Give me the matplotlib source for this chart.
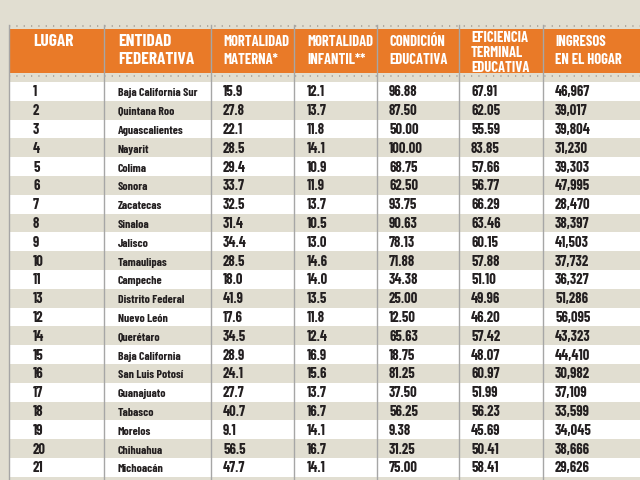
import matplotlib.pyplot as plt
from matplotlib.patches import Rectangle

# table data
lugar = [1, 2, 3, 4, 5, 6, 7, 8, 9, 10, 11, 13, 12, 14, 15, 16, 17, 18, 19, 20, 21]
entidad = ['Baja California Sur', 'Quintana Roo', 'Aguascalientes', 'Nayarit', 'Colima',
           'Sonora', 'Zacatecas', 'Sinaloa', 'Jalisco', 'Tamaulipas', 'Campeche',
           'Distrito Federal', 'Nuevo León', 'Querétaro', 'Baja California',
           'San Luis Potosí', 'Guanajuato', 'Tabasco', 'Morelos', 'Chihuahua', 'Michoacán']
mort_materna = [15.9, 27.8, 22.1, 28.5, 29.4, 33.7, 32.5, 31.4, 34.4, 28.5, 18.0,
                41.9, 17.6, 34.5, 28.9, 24.1, 27.7, 40.7, 9.1, 56.5, 47.7]
mort_infantil = [12.1, 13.7, 11.8, 14.1, 10.9, 11.9, 13.7, 10.5, 13.0, 14.6, 14.0,
                 13.5, 11.8, 12.4, 16.9, 15.6, 13.7, 16.7, 14.1, 16.7, 14.1]
cond_educativa = [96.88, 87.50, 50.00, 100.00, 68.75, 62.50, 93.75, 90.63, 78.13, 71.88,
                  34.38, 25.00, 12.50, 65.63, 18.75, 81.25, 37.50, 56.25, 9.38, 31.25, 75.00]
efic_terminal = [67.91, 62.05, 55.59, 83.85, 57.66, 56.77, 66.29, 63.46, 60.15, 57.88,
                 51.10, 49.96, 46.20, 57.42, 48.07, 60.97, 51.99, 56.23, 45.69, 50.41, 58.41]
ingresos = [46967, 39017, 39804, 31230, 39303, 47995, 28470, 38397, 41503, 37732, 36327,
            51286, 56095, 43323, 44410, 30982, 37109, 33599, 34045, 38666, 29626]

headers = [['LUGAR'], ['ENTIDAD', 'FEDERATIVA'], ['MORTALIDAD', 'MATERNA*'],
           ['MORTALIDAD', 'INFANTIL**'], ['CONDICIÓN', 'EDUCATIVA'],
           ['EFICIENCIA', 'TERMINAL', 'EDUCATIVA'], ['INGRESOS', 'EN EL HOGAR']]

BG = '#e1ded1'
ORANGE = '#e97a28'
TXT = '#231f20'
FONT = ['Barlow Condensed', 'DejaVu Sans']

col_lines = [9, 104, 211, 294, 376.5, 459, 542.5]
text_x = [33, 118, 223, 307, 389, 471, 555]
row_top = 81.9
row_h = 18.8

fig = plt.figure(figsize=(6.4, 4.8), dpi=100)
fig.patch.set_facecolor(BG)
ax = fig.add_axes([0, 0, 1, 1])
ax.set_xlim(0, 640)
ax.set_ylim(480, 0)
ax.axis('off')

# orange header band
ax.add_patch(Rectangle((9, 29), 640, 43.5, facecolor=ORANGE, edgecolor='none'))

# alternating rows
for i in range(len(lugar) + 1):
    y0 = row_top + i * row_h
    col = 'white' if i % 2 == 0 else BG
    ax.add_patch(Rectangle((9, y0), 640, row_h, facecolor=col, edgecolor='none'))

# dotted rules above and below header
for yy in [25.5, 76]:
    ax.plot([9, 640], [yy, yy], color='#a09c94', lw=1.1, ls=(0, (0.8, 4)))

# vertical column rules
for x in col_lines:
    ax.plot([x, x], [25, 480], color='#a6a6a6', lw=1.0)

# header text (baselines)
header_y = {1: [45.5], 2: [45.5, 64.5], 3: [42, 57, 72]}
for x, lines in zip(text_x, headers):
    ys = header_y[len(lines)]
    big = lines == ['LUGAR'] or lines[0] == 'ENTIDAD'
    for yy, s in zip(ys, lines):
        ax.text(x, yy, s, color='white', fontsize=12.5 if big else 10.5,
                fontweight='bold', family=FONT, va='baseline', ha='left')

# body text
for i in range(len(lugar)):
    yb = row_top + i * row_h + 14.5
    vals = [str(lugar[i]), entidad[i], f'{mort_materna[i]:.1f}', f'{mort_infantil[i]:.1f}',
            f'{cond_educativa[i]:.2f}', f'{efic_terminal[i]:.2f}', f'{ingresos[i]:,}']
    for j, (x, s) in enumerate(zip(text_x, vals)):
        ax.text(x, yb, s, color=TXT, fontsize=8.5 if j == 1 else 10.5,
                fontweight='bold', family=FONT, va='baseline', ha='left')

fig.savefig('out.png', dpi=100, facecolor=BG)
